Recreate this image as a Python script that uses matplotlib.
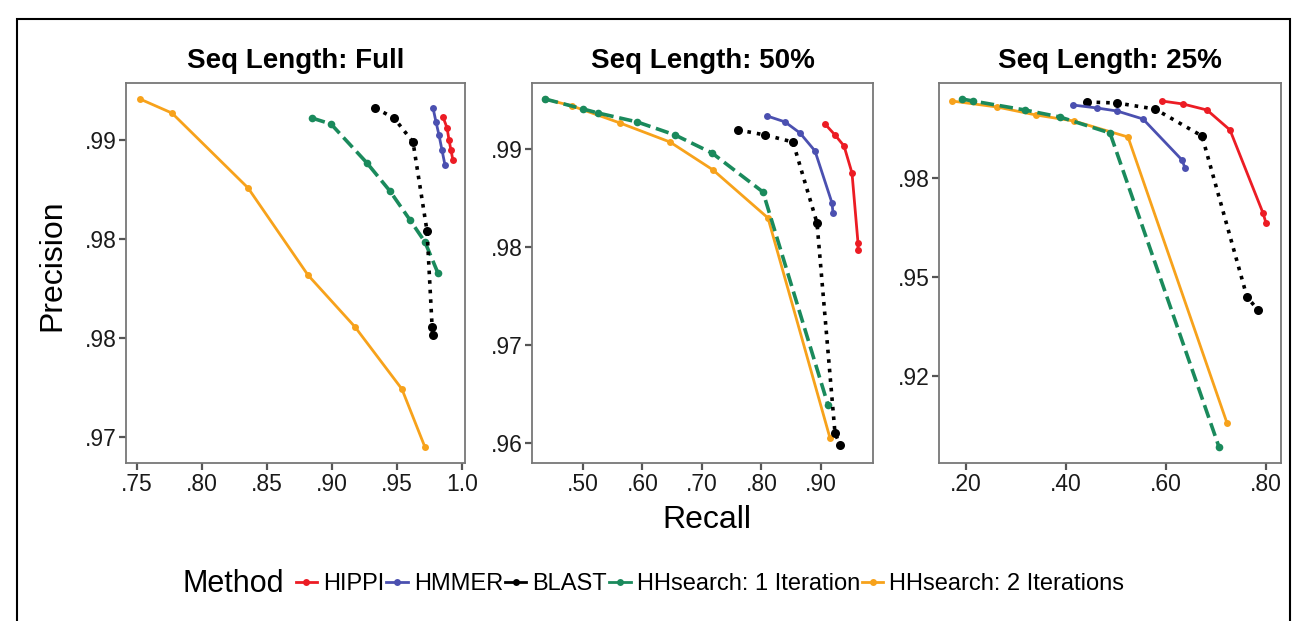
import matplotlib
matplotlib.use("Agg")
import matplotlib.pyplot as plt
from matplotlib.lines import Line2D
from matplotlib.patches import Rectangle

plt.rcParams['font.family'] = ['Liberation Sans', 'DejaVu Sans']

# ---- data (recall, precision) ----
methods = ['HIPPI', 'HMMER', 'BLAST', 'HHsearch: 1 Iteration', 'HHsearch: 2 Iterations']
panel_titles = ['Seq Length: Full', 'Seq Length: 50%', 'Seq Length: 25%']

# Seq length: full
full_hippi_r = [0.9854, 0.9885, 0.9900, 0.9915, 0.9930]
full_hippi_p = [0.99116, 0.99061, 0.99000, 0.98949, 0.98899]
full_hmmer_r = [0.9777, 0.9800, 0.9823, 0.9846, 0.9869]
full_hmmer_p = [0.99162, 0.99091, 0.99025, 0.98949, 0.98874]
full_blast_r = [0.9331, 0.9477, 0.9623, 0.9731, 0.9770, 0.9777]
full_blast_p = [0.99162, 0.99111, 0.98990, 0.98540, 0.98056, 0.98015]
full_hh1_r = [0.8846, 0.8992, 0.9269, 0.9446, 0.9600, 0.9715, 0.9815]
full_hh1_p = [0.99111, 0.99081, 0.98884, 0.98742, 0.98596, 0.98485, 0.98328]
full_hh2_r = [0.7523, 0.7769, 0.8354, 0.8815, 0.9177, 0.9538, 0.9715]
full_hh2_p = [0.99207, 0.99136, 0.98758, 0.98318, 0.98056, 0.97742, 0.97449]

# Seq length: 50%
half_hippi_r = [0.9067, 0.9235, 0.9387, 0.9521, 0.9622, 0.9622]
half_hippi_p = [0.99255, 0.99143, 0.99031, 0.98755, 0.98041, 0.97969]
half_hmmer_r = [0.8092, 0.8395, 0.8647, 0.8899, 0.9185, 0.9202]
half_hmmer_p = [0.99337, 0.99276, 0.99163, 0.98980, 0.98449, 0.98347]
half_blast_r = [0.7605, 0.8059, 0.8529, 0.8933, 0.9235, 0.9319]
half_blast_p = [0.99194, 0.99143, 0.99071, 0.98245, 0.96102, 0.95980]
half_hh1_r = [0.4361, 0.5000, 0.5252, 0.5908, 0.6546, 0.7168, 0.8025, 0.9118]
half_hh1_p = [0.99510, 0.99408, 0.99367, 0.99276, 0.99143, 0.98959, 0.98561, 0.96388]
half_hh2_r = [0.4361, 0.4815, 0.5622, 0.6462, 0.7185, 0.8109, 0.9151]
half_hh2_p = [0.99510, 0.99439, 0.99265, 0.99071, 0.98786, 0.98296, 0.96051]

# Seq length: 25%
quart_hippi_r = [0.592, 0.634, 0.682, 0.728, 0.794, 0.800]
quart_hippi_p = [0.99444, 0.99369, 0.99217, 0.98712, 0.96616, 0.96364]
quart_hmmer_r = [0.414, 0.462, 0.502, 0.554, 0.632, 0.638]
quart_hmmer_p = [0.99343, 0.99268, 0.99192, 0.98990, 0.97955, 0.97753]
quart_blast_r = [0.442, 0.502, 0.578, 0.672, 0.762, 0.784]
quart_blast_p = [0.99419, 0.99394, 0.99242, 0.98561, 0.94495, 0.94167]
quart_hh1_r = [0.192, 0.214, 0.318, 0.388, 0.488, 0.706]
quart_hh1_p = [0.99495, 0.99444, 0.99217, 0.99040, 0.98636, 0.90707]
quart_hh2_r = [0.172, 0.262, 0.340, 0.416, 0.524, 0.722]
quart_hh2_p = [0.99444, 0.99293, 0.99091, 0.98939, 0.98535, 0.91313]

# axis ticks per panel
full_xticks = [0.75, 0.80, 0.85, 0.90, 0.95, 1.0]
full_xlabels = ['.75', '.80', '.85', '.90', '.95', '1.0']
full_yticks = [0.990, 0.985, 0.980, 0.975]
full_ylabels = ['.99', '.98', '.98', '.97']
half_xticks = [0.5, 0.6, 0.7, 0.8, 0.9]
half_xlabels = ['.50', '.60', '.70', '.80', '.90']
half_yticks = [0.99, 0.98, 0.97, 0.96]
half_ylabels = ['.99', '.98', '.97', '.96']
quart_xticks = [0.2, 0.4, 0.6, 0.8]
quart_xlabels = ['.20', '.40', '.60', '.80']
quart_yticks = [0.975, 0.95, 0.925]
quart_ylabels = ['.98', '.95', '.92']

colors = ['#ec1c24', '#4b50b0', '#000000', '#1a8a5c', '#f7a21b']
styles = ['-', '-', ':', '--', '-']
widths = [2.0, 2.0, 2.6, 2.6, 2.0]
msizes = [5.0, 5.0, 6.5, 5.5, 5.0]

panels = [
    [(full_hippi_r, full_hippi_p), (full_hmmer_r, full_hmmer_p), (full_blast_r, full_blast_p),
     (full_hh1_r, full_hh1_p), (full_hh2_r, full_hh2_p)],
    [(half_hippi_r, half_hippi_p), (half_hmmer_r, half_hmmer_p), (half_blast_r, half_blast_p),
     (half_hh1_r, half_hh1_p), (half_hh2_r, half_hh2_p)],
    [(quart_hippi_r, quart_hippi_p), (quart_hmmer_r, quart_hmmer_p), (quart_blast_r, quart_blast_p),
     (quart_hh1_r, quart_hh1_p), (quart_hh2_r, quart_hh2_p)],
]
xlims = [(0.7415, 1.0023), (0.4143, 0.9874), (0.146, 0.830)]
ylims = [(0.97369, 0.99288), (0.95796, 0.99673), (0.90303, 0.99899)]
ticks = [(full_xticks, full_xlabels, full_yticks, full_ylabels),
         (half_xticks, half_xlabels, half_yticks, half_ylabels),
         (quart_xticks, quart_xlabels, quart_yticks, quart_ylabels)]

W, H = 1297, 621
fig = plt.figure(figsize=(W / 100, H / 100), dpi=100)
boxes = [(126, 465), (532, 873), (939, 1281)]
top_px, bot_px = 83, 463

# draw order: hh2 under, then hh1, blast, hmmer, hippi on top
order = [4, 3, 2, 1, 0]
for k, (x0, x1) in enumerate(boxes):
    ax = fig.add_axes([x0 / W, (H - bot_px) / H, (x1 - x0) / W, (bot_px - top_px) / H])
    for i in order:
        r, p = panels[k][i]
        ax.plot(r, p, color=colors[i], linestyle=styles[i], linewidth=widths[i],
                marker='o', markersize=msizes[i], markeredgewidth=0, zorder=3 + (4 - i))
    ax.set_xlim(*xlims[k])
    ax.set_ylim(*ylims[k])
    xt, xl, yt, yl = ticks[k]
    ax.set_xticks(xt)
    ax.set_xticklabels(xl)
    ax.set_yticks(yt)
    ax.set_yticklabels(yl)
    ax.tick_params(direction='out', length=5, width=1.6, color='#555555',
                   labelsize=16.5, labelcolor='#1a1a1a', pad=2)
    for s in ax.spines.values():
        s.set_color('#777777')
        s.set_linewidth(1.3)
    ax.set_title(panel_titles[k], fontsize=20, fontweight='bold', pad=11)

fig.text(52 / W, 1 - 265 / H, 'Precision', rotation=90, ha='center', va='center', fontsize=23)
fig.text(707 / W, 1 - 520 / H, 'Recall', ha='center', va='center', fontsize=23)

# legend
handles = [Line2D([], [], color=colors[i], linestyle='-', linewidth=2, marker='o',
                  markersize=5, markeredgewidth=0) for i in range(5)]
fig.text(233 / W, 1 - 584 / H, 'Method', ha='center', va='center', fontsize=22)
leg = fig.legend(handles, methods, loc='center', bbox_to_anchor=(710 / W, 1 - 584 / H),
                 ncol=5, frameon=False, fontsize=17, handlelength=0.9,
                 handletextpad=0.25, columnspacing=0.1, borderpad=0.2)

# outer frame
fig.patches.append(Rectangle((17 / W, -0.01), (1290 - 17) / W, (H - 19) / H + 0.01,
                             transform=fig.transFigure, fill=False,
                             edgecolor='black', linewidth=1.5))

fig.savefig('out.png', dpi=100)
